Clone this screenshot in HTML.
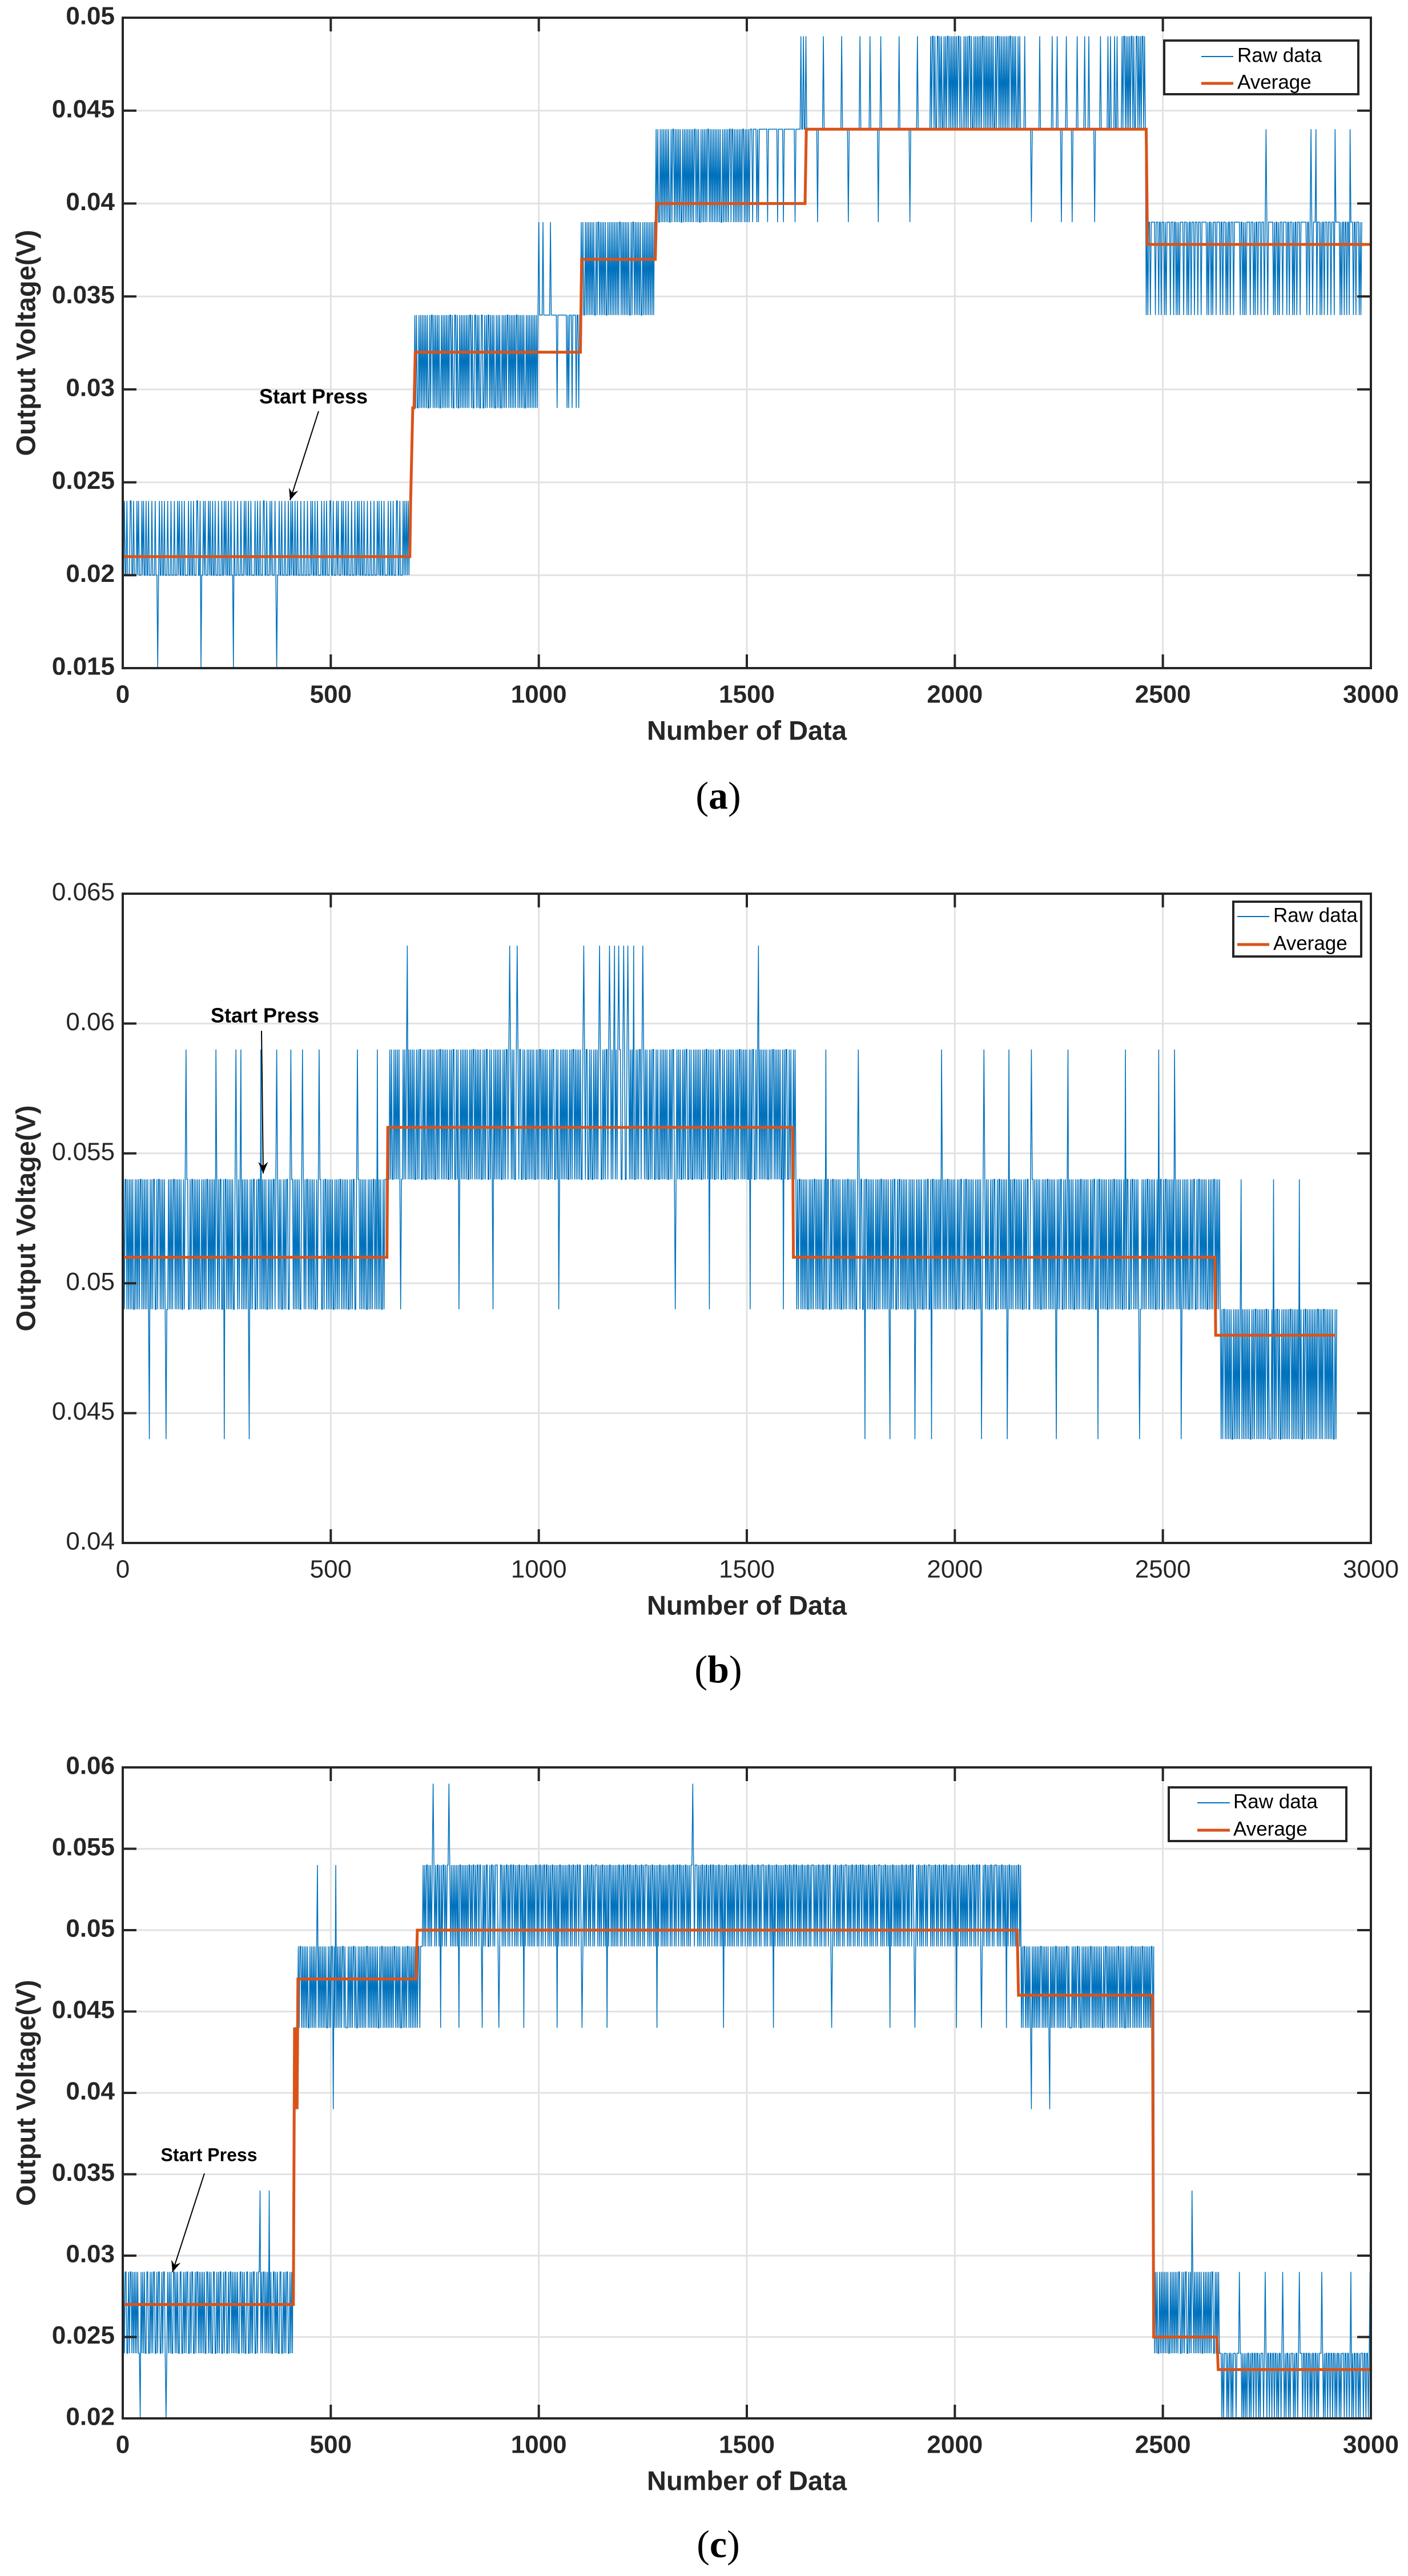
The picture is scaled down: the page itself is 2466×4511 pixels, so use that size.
<!DOCTYPE html>
<html><head><meta charset="utf-8">
<style>
html,body{margin:0;padding:0;background:#fff;}
svg{display:block;}
</style></head>
<body>
<svg id="fig" xmlns="http://www.w3.org/2000/svg" width="2466" height="4511" viewBox="0 0 2466 4511"></svg>
<script>
// ===== Chart (a) data =====
// raw: each char = quantized ADC level (k*5/1024 V, shown rounded to mV), one char per 2 samples
const rawA = ["4454454445","5445444545","4445454454","4544454445","4434544544","5444544454","4454445454","4544544445","4454454445","5445344545",
"4445454454","4544454445","4454544544","5443544454","4454445454","4544544445","4454454445","5445444545","4445434454","4544454445",
"4454544544","5444544454","4454445454","4544544445","4454454445","5445444545","4445454454","4544454445","4454544544","5444544454",
"4454445454","4544544445","4454454445","5445444545","4545455566","6767667676","7676767667","6776767676","7667676767","6767767667",
"7676676767","6767676776","7667767676","6776676767","7676767667","6767667676","7677676767","6767767676","7676676767","6767676767",
"8777787777","7777877777","7767777777","7777676777","6777767767","7878778787","8787878778","7887878787","8778787878","7878787887",
"8787878787","7878878787","8787787878","7878787878","8989889898","9898989889","8998989898","9889898989","8989898998","9898898989",
"8989989898","9898989898","8989898989","9899898989","8989899898","9898999899","9989899999","9999989999","9999999899","9999899999",
"9999999989","99999a99a9","9a99999999","9999989999","99a9999999","9999999999","9999a99999","9989999999","999999a999","99999999a9",
"9999999989","9a99999999","9999999999","999a999999","9999998999","99999a9999","9999999999","9a9aa9a99a","a9a9a99a9a","9aa9a9a9a9",
"a9a9aa9a99","9a9a9a9aa9","a99a9a9a9a","9a9aa9a9a9","a9a9a9a99a","9aa9a9a9a9","a9a9a9aa9a","9a9a99a9a9","9999a99999","9989999999",
"99a9999999","9999999a99","999a999989","9999a99999","9899999a99","999999a999","9a99999989","99999a9999","9999a99a99","99a99a9999",
"9a9aa9a9a9","a9aa9a99aa","9a9a9aa9a9","7878878888","8788878878","8878788887","8887887878","7888878887","8788788878","8878887888",
"8887878878","7888788887","8878887878","8788878888","8887887878","7888878887","8788788878","8878987888","8887878878","7888788887",
"8878887878","8788878888","8887887898","7888978887","8788788878","8878887988","8887878878","8788798887","8878887878"].join("");
const avgAx = [0, 690, 692, 697, 700, 703, 1100, 1103, 1280, 1283, 1640, 1643, 2460, 2463, 3000];
const avgAy = [0.021, 0.021, 0.024, 0.029, 0.029, 0.032, 0.032, 0.037, 0.037, 0.040, 0.040, 0.044, 0.044, 0.0378, 0.0378];
const yTicksA = ["0.015","0.02","0.025","0.03","0.035","0.04","0.045","0.05"];
const xTicks = ["0","500","1000","1500","2000","2500","3000"];

// ===== Chart (b) data =====
const rawB = ["ababbababa","babaababab","abbabababa","ba9bababba","ababbababa","ba9aababab","abbabababa","baababcbba","ababbababa","babaababab",
"abbabababa","bacbababba","ab9bbababa","babaabcbab","abcabababa","ba9bababba","ababbacaba","babaababab","abbabcbaba","baabababba",
"abcbbababa","babaabcbab","abbabababa","baababcbba","ababbababa","babaababab","abbabababa","baabababba","abcbbababa","babaababab",
"abbabacaba","baababbbbb","bcbcbbcbcb","cbcbabbcbc","bcdbcbcbcb","cbbcbcbccb","bcbcbbcbcb","cbcbcbbcbc","bccbcbcbcb","cbbcbcbccb",
"bcbcabcbcb","cbcbcbbcbc","bccbcbcbcb","cbbcbcbccb","bcbcbacbcb","cbcbcbbcbc","bccbcdcbcb","cbbcdcbccb","bcbcbbcbcb","cbcbcbbcbc",
"bccbcbcbcb","cbbcbcbccb","bcbcabcbcb","cbcbcbbcbc","bccbcbcbcb","cbbcdcbccb","bcbcbbcbcb","cbcdcbbcbc","bccbcdcbcb","cdbcbcdccb",
"bcdcbbcdcb","cbcbdbbcbc","bccbcdcbcb","cbbcbcbccb","bcbcbbcbcb","cbcbcbbcbc","bccbabcbcb","cbbcbcbccb","bcbcbbcbcb","cbcbcbbcbc",
"bccbcacbcb","cbbcbcbccb","bcbcbbcbcb","cbcbcbbcbc","bccbcbcbcb","cbbcacbccb","bcbcdbcbcb","cbcbcbbcbc","bccbcbcbcb","cbbcacbccb",
"bcbcbbcbcb","ababbababa","babaababab","abbabababa","baabacabba","ababbababa","babaababab","abbabababa","baabcbabba","ab9bbababa",
"babaababab","abbabababa","ba9bababba","ababbababa","babaababab","ab9abababa","baabababba","ab9bbababa","babacbabab","abbabababa",
"baabababba","ababbababa","babaababab","ab9abcbaba","baabababba","ababbababa","bab9acabab","abbabababa","baabababba","abcbbababa",
"babaababab","abbabababa","ba9bababba","abababcaba","babaababab","abbabababa","baabababba","ab9bbababa","babaababab","abbabababa",
"baabacabba","ababbababa","ba9aababab","abbabababa","baabacabba","ababbababa","babacbabab","ab9abababa","baabababba","ababbababa",
"babaababab","abbabababa","9a9aa9a9a9","a9a99a9a9a","9a9ab9a9a9","a9a9a99a9a","9aa9a9a9a9","a9a9aa9a99","9a9b9a9aa9","a99a9a9a9a",
"9a9aa9a9a9","a9a9b9a99a","9aa9a9a9a9","a9a9a9aa9a","9a9aa9a9a9","a9a9a99a9a"].join("");
const avgBx = [0, 635, 637, 1610, 1612, 2625, 2627, 2915];
const avgBy = [0.051, 0.051, 0.056, 0.056, 0.051, 0.051, 0.048, 0.048];
const yTicksB = ["0.04","0.045","0.05","0.055","0.06","0.065"];

// ===== Chart (c) data =====
const rawC = ["5656655656","6565656565","5465656556","6556565665","5656655656","6545656565","5665656556","6556565665","5656655656","6565656565",
"5665656556","6556565665","5656655656","6565656565","5665656556","6556565665","5656675656","6565657565","5665656556","6556565665",
"5656589999","9a9aa9a9a9","a9a99a9a9a","9a9ab9a9a9","a9a9a99a9a","9aa8a9b9a9","a9a9aa9a99","9a9a9a9aa9","a99a9a9a9a","9a9aa9a9a9",
"a9a9a9a99a","9aa9a9a9a9","a9a9a9aa9a","9a9a99a9a9","a9aa9a9a9a","9a9a9aa9aa","abababbaba","babcbababb","ab9babbaba","bbcbababab",
"abab9bbaba","babababbab","abbababbab","ba9bababba","ababbababb","ba9abbabab","abbababbab","babababbab","ab9babbaba","babababbab",
"abbababbab","babababbab","ab9babbaba","babababbab","abbababbab","ba9abababb","ababbababb","babababbab","ab9babbaba","babababbab",
"abbababbab","babababbab","ababbababb","babababbab","ab9babbaba","babababbab","abbababbab","babababbab","ababbcbabb","babababbab",
"abbababbab","babababbab","ab9babbaba","babababbab","abbababbab","babababbab","ababbababb","babababbab","ab9babbaba","babababbab",
"abbababbab","babababbab","ababbababb","babababbab","abbababbab","ba9ababbab","ababbababb","babababbab","abbababbab","babababbab",
"ababbababb","babababbab","ab9babbaba","babababbab","abbababbab","ba9ababbab","ababbababb","babababbab","abbababbab","babababbab",
"ab9babbaba","babababbab","abbababbab","ba9ababbab","ababbababb","babababbab","ab9babbaba","babababbab","9a9aa9a9a9","a98a9a9a9a",
"9a9aa9a9a9","a9a98a9a9a","9aa9a9a9a9","a9a9aa9a99","9a9a9a9aa9","a99a9a9a9a","9a9aa9a9a9","a9a9a9a99a","9aa9a9a9a9","a9a9a9aa9a",
"9a9a99a9a9","a9aa9a9a9a","9a9a9aa9a9","a9a9a9aa9a","5656556565","6565656556","5656565656","6556565665","5656576565","6565656556",
"5656565656","6556565655","5454555454","5545455545","5565545454","5455454554","5545545455","5456545545","5455455454","5545654545",
"5454555454","5545655545","5455455454","5545545455","5654545545","5455455454","5545455545","5455456454","5545545455","5455455456"].join("");
const avgCx = [0, 410, 413, 415, 417, 419, 421, 424, 705, 708, 2150, 2153, 2475, 2478, 2630, 2633, 3000];
const avgCy = [0.027, 0.027, 0.044, 0.039, 0.044, 0.039, 0.047, 0.047, 0.047, 0.050, 0.050, 0.046, 0.046, 0.025, 0.025, 0.023, 0.023];
const yTicksC = ["0.02","0.025","0.03","0.035","0.04","0.045","0.05","0.055","0.06"];

const NS = "http://www.w3.org/2000/svg";
const svg = document.getElementById("fig");
const BLUE = "#0072BD", ORANGE = "#D95319", INK = "#262626", GRID = "#e2e2e2";
const LSB = 5/1024;

function el(tag, attrs, parent) {
  const e = document.createElementNS(NS, tag);
  for (const k in attrs) e.setAttribute(k, attrs[k]);
  (parent || svg).appendChild(e);
  return e;
}

function chart(id, L, R, T, B, ymin, ymax, yTicks, raw, avgX, avgY, bold, legendBox, startPress, caption) {
  const g = el("g", {});
  
  
  const xs = v => L + (R - L) * v / 3000;
  const ys = v => B - (B - T) * (v - ymin) / (ymax - ymin);
  const fw = bold ? "bold" : "normal";
  const font = '"Liberation Sans", Arial, sans-serif';
  for (const t of xTicks) {
    const x = xs(+t);
    const gl = el("line", {x1:x, x2:x, y1:T, y2:B, stroke:GRID, "stroke-width":3}, g);
    
    
  }
  for (const t of yTicks) {
    const y = ys(+t);
    const gl = el("line", {x1:L, x2:R, y1:y, y2:y, stroke:GRID, "stroke-width":3}, g);
    
    
  }
  let d = "";
  for (let i = 0; i < raw.length; i++) {
    const lv = parseInt(raw[i], 16);
    const v = Math.round(lv * LSB * 1000) / 1000;
    d += (i ? "L" : "M") + xs(i * 2).toFixed(1) + " " + ys(v).toFixed(1);
  }
  const rp = el("path", {d:d, fill:"none", stroke:BLUE, "stroke-width":1.5, "stroke-linejoin":"miter"}, g);
  
  
  let da = "";
  for (let i = 0; i < avgX.length; i++) {
    da += (i ? "L" : "M") + xs(avgX[i]).toFixed(1) + " " + ys(avgY[i]).toFixed(1);
  }
  const ap = el("path", {d:da, fill:"none", stroke:ORANGE, "stroke-width":5}, g);
  
  
  const box = el("rect", {x:L, y:T, width:R-L, height:B-T, fill:"none", stroke:INK, "stroke-width":4}, g);
  
  
  for (const t of xTicks) {
    const x = xs(+t);
    el("line", {x1:x, x2:x, y1:B, y2:B-24, stroke:INK, "stroke-width":4}, g);
    el("line", {x1:x, x2:x, y1:T, y2:T+24, stroke:INK, "stroke-width":4}, g);
    const tx = el("text", {x:x, y:B+49, "text-anchor":"middle", "dominant-baseline":"middle", "font-family":font, "font-size":44, "font-weight":fw, fill:INK}, g);
    tx.textContent = t;
    
    
  }
  for (const t of yTicks) {
    const y = ys(+t);
    el("line", {x1:L, x2:L+24, y1:y, y2:y, stroke:INK, "stroke-width":4}, g);
    el("line", {x1:R, x2:R-24, y1:y, y2:y, stroke:INK, "stroke-width":4}, g);
    const ty = el("text", {x:L-14, y:y, "text-anchor":"end", "dominant-baseline":"middle", "font-family":font, "font-size":44, "font-weight":fw, fill:INK}, g);
    ty.textContent = t;
    
    
  }
  const xl = el("text", {x:(L+R)/2, y:B+113, "text-anchor":"middle", "dominant-baseline":"middle", "font-family":font, "font-size":47, "font-weight":"bold", fill:INK}, g);
  xl.textContent = "Number of Data";
  
  
  const yc = (T+B)/2;
  const yl = el("text", {x:0, y:0, transform:"translate(49," + yc + ") rotate(-90)", "text-anchor":"middle", "dominant-baseline":"middle", "font-family":font, "font-size":47, "font-weight":"bold", fill:INK}, g);
  yl.textContent = "Output Voltage(V)";
  
  
  const [lx1, ly1, lx2, ly2, lnx1, lnx2, txx, r1, r2] = legendBox;
  const lg = el("g", {}, g);
  
  
  el("rect", {x:lx1, y:ly1, width:lx2-lx1, height:ly2-ly1, fill:"#fff", stroke:INK, "stroke-width":4}, lg);
  el("line", {x1:lnx1, x2:lnx2, y1:r1, y2:r1, stroke:BLUE, "stroke-width":2}, lg);
  el("line", {x1:lnx1, x2:lnx2, y1:r2, y2:r2, stroke:ORANGE, "stroke-width":5}, lg);
  const t1 = el("text", {x:txx, y:r1, "dominant-baseline":"middle", "font-family":font, "font-size":35, fill:"#000"}, lg);
  t1.textContent = "Raw data";
  
  
  const t2 = el("text", {x:txx, y:r2, "dominant-baseline":"middle", "font-family":font, "font-size":35, fill:"#000"}, lg);
  t2.textContent = "Average";
  
  
  const [sx, sy, fs, ax1, ay1, ax2, ay2] = startPress;
  const st = el("text", {x:sx, y:sy, "text-anchor":"middle", "dominant-baseline":"middle", "font-family":font, "font-size":fs, "font-weight":"bold", fill:"#000"}, g);
  st.textContent = "Start Press";
  
  
  const ar = el("line", {x1:ax1, y1:ay1, x2:ax2, y2:ay2, stroke:"#000", "stroke-width":2}, g);
  
  
  const ang = Math.atan2(ay2-ay1, ax2-ax1), hl = 22, hw = 0.4;
  const hp = el("polygon", {points:
    ax2 + "," + ay2 + " " +
    (ax2 - hl*Math.cos(ang-hw)) + "," + (ay2 - hl*Math.sin(ang-hw)) + " " +
    (ax2 - hl*0.6*Math.cos(ang)) + "," + (ay2 - hl*0.6*Math.sin(ang)) + " " +
    (ax2 - hl*Math.cos(ang+hw)) + "," + (ay2 - hl*Math.sin(ang+hw)), fill:"#000"}, g);
  
  
  const cp = el("text", {x:1258, y:caption[1], "text-anchor":"middle", "dominant-baseline":"middle", "font-family":'"Liberation Serif", "Times New Roman", serif', "font-size":68, fill:"#000"}, g);
  const tsp1 = el("tspan", {}, cp); tsp1.textContent = "(";
  const tsp2 = el("tspan", {"font-weight":"bold"}, cp); tsp2.textContent = caption[0];
  const tsp3 = el("tspan", {}, cp); tsp3.textContent = ")";
  
  
}

chart("a", 215, 2401, 31, 1170, 0.015, 0.05, yTicksA, rawA, avgAx, avgAy, true,
  [2039, 71, 2379, 165, 2104, 2160, 2167, 99, 146], [549, 697, 36, 558, 720, 508, 876], ["a", 1400]);
chart("b", 215, 2401, 1565, 2702, 0.04, 0.065, yTicksB, rawB, avgBx, avgBy, false,
  [2160, 1579, 2384, 1675, 2167, 2223, 2230, 1605, 1654], [464, 1781, 36, 458, 1805, 461, 2055], ["b", 2930]);
chart("c", 215, 2401, 3095, 4235, 0.02, 0.06, yTicksC, rawC, avgCx, avgCy, true,
  [2047, 3130, 2358, 3224, 2097, 2154, 2160, 3157, 3205], [366, 3776, 32, 358, 3806, 302, 3979], ["c", 4462]);
</script>
</body></html>
